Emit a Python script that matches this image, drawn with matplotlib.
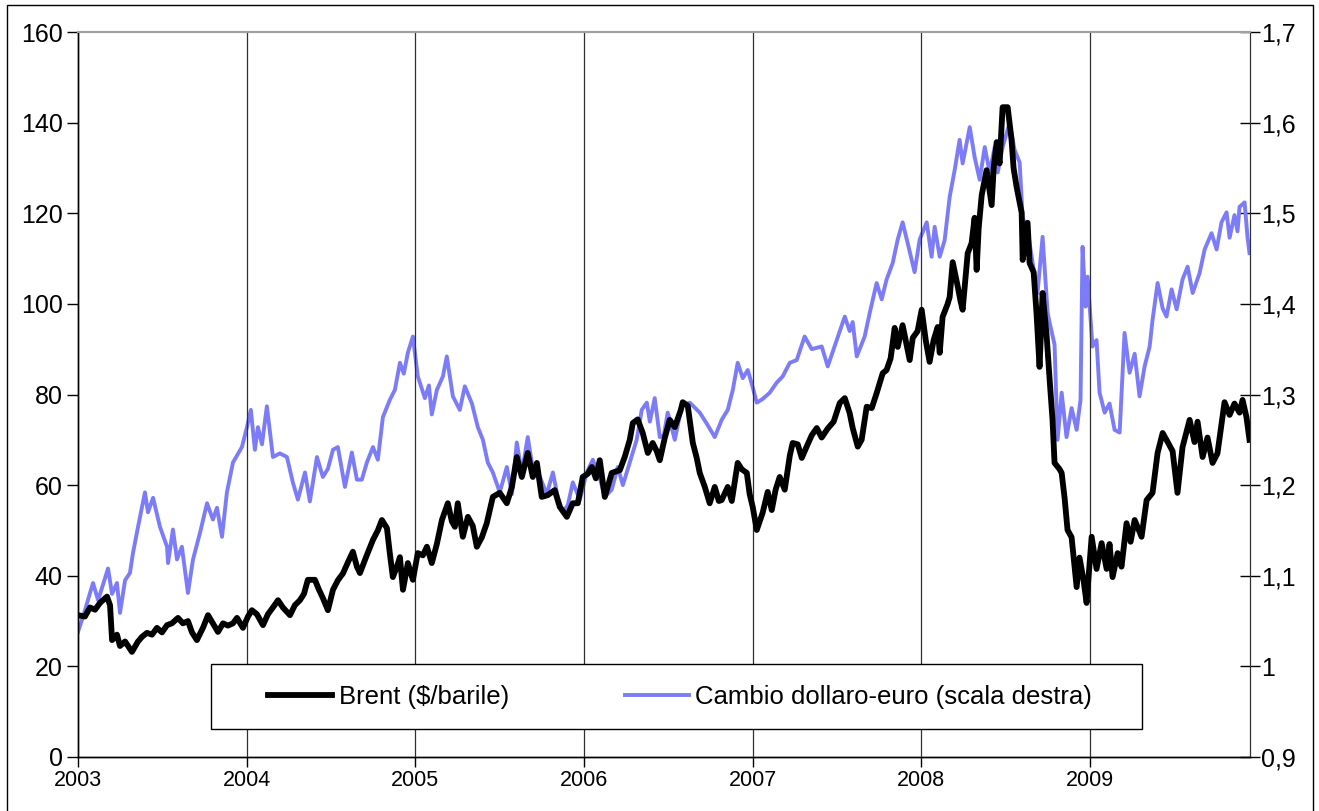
import matplotlib
matplotlib.use("Agg")
import matplotlib.pyplot as plt
from matplotlib.patches import Rectangle
from matplotlib.lines import Line2D
from matplotlib.ticker import FuncFormatter

plt.rcParams['font.family'] = ['Liberation Sans', 'DejaVu Sans']

# ---------------- data (decimal years) ----------------
brent_t = [2003.000, 2003.041, 2003.071, 2003.101, 2003.130, 2003.172, 2003.190, 2003.202, 2003.231, 2003.249,
           2003.279, 2003.320, 2003.356, 2003.379, 2003.409, 2003.439, 2003.468, 2003.498, 2003.528, 2003.557,
           2003.593, 2003.622, 2003.652, 2003.676, 2003.705, 2003.741, 2003.771, 2003.800, 2003.830, 2003.860,
           2003.889, 2003.919, 2003.943, 2003.978, 2004.008, 2004.031, 2004.061, 2004.097, 2004.126, 2004.156,
           2004.186, 2004.215, 2004.257, 2004.286, 2004.316, 2004.340, 2004.363, 2004.405, 2004.428, 2004.452,
           2004.482, 2004.512, 2004.541, 2004.571, 2004.601, 2004.630, 2004.654, 2004.672, 2004.707, 2004.749,
           2004.778, 2004.802, 2004.832, 2004.849, 2004.867, 2004.891, 2004.909, 2004.927, 2004.956, 2004.986,
           2005.015, 2005.045, 2005.069, 2005.098, 2005.128, 2005.158, 2005.193, 2005.217, 2005.235, 2005.252,
           2005.282, 2005.312, 2005.341, 2005.365, 2005.395, 2005.424, 2005.460, 2005.501, 2005.543, 2005.573,
           2005.602, 2005.632, 2005.667, 2005.697, 2005.721, 2005.750, 2005.786, 2005.827, 2005.857, 2005.899,
           2005.934, 2005.964, 2005.993, 2006.023, 2006.047, 2006.071, 2006.094, 2006.124, 2006.165, 2006.213,
           2006.242, 2006.272, 2006.290, 2006.319, 2006.349, 2006.379, 2006.408, 2006.432, 2006.450, 2006.480,
           2006.509, 2006.539, 2006.574, 2006.586, 2006.616, 2006.646, 2006.669, 2006.687, 2006.717, 2006.746,
           2006.776, 2006.800, 2006.817, 2006.853, 2006.877, 2006.912, 2006.936, 2006.966, 2006.983, 2007.001,
           2007.025, 2007.060, 2007.090, 2007.114, 2007.137, 2007.161, 2007.191, 2007.221, 2007.238, 2007.268,
           2007.292, 2007.321, 2007.351, 2007.381, 2007.410, 2007.446, 2007.481, 2007.517, 2007.547, 2007.576,
           2007.594, 2007.624, 2007.647, 2007.677, 2007.707, 2007.736, 2007.772, 2007.795, 2007.819, 2007.843,
           2007.861, 2007.890, 2007.908, 2007.932, 2007.950, 2007.979, 2008.003, 2008.027, 2008.050, 2008.074,
           2008.098, 2008.110, 2008.127, 2008.157, 2008.169, 2008.187, 2008.216, 2008.234, 2008.246, 2008.276,
           2008.299, 2008.317, 2008.329, 2008.341, 2008.359, 2008.388, 2008.418, 2008.430, 2008.448, 2008.465,
           2008.483, 2008.513, 2008.536, 2008.548, 2008.566, 2008.596, 2008.602, 2008.631, 2008.643, 2008.667,
           2008.684, 2008.702, 2008.720, 2008.744, 2008.762, 2008.779, 2008.791, 2008.821, 2008.833, 2008.851,
           2008.868, 2008.892, 2008.922, 2008.939, 2008.963, 2008.981, 2009.011, 2009.040, 2009.070, 2009.100,
           2009.117, 2009.135, 2009.165, 2009.188, 2009.218, 2009.242, 2009.266, 2009.307, 2009.337, 2009.372,
           2009.402, 2009.432, 2009.462, 2009.491, 2009.520, 2009.550, 2009.592, 2009.621, 2009.639, 2009.669,
           2009.698, 2009.728, 2009.757, 2009.799, 2009.829, 2009.858, 2009.888, 2009.906, 2009.929, 2009.947]
brent_v = [31.3, 31.0, 33.0, 32.5, 34.0, 35.4, 33.5, 25.8, 27.0, 24.5,
           25.5, 23.2, 25.5, 26.5, 27.4, 27.0, 28.5, 27.5, 29.1, 29.5,
           30.7, 29.5, 30.0, 27.5, 25.8, 28.5, 31.3, 29.5, 27.6, 29.5,
           29.0, 29.5, 30.7, 28.5, 31.0, 32.4, 31.5, 29.1, 31.5, 33.0,
           34.6, 33.0, 31.3, 33.5, 34.6, 36.0, 39.1, 39.1, 37.0, 35.1,
           32.4, 36.9, 39.0, 40.5, 43.0, 45.3, 42.0, 40.6, 44.0, 47.9,
           50.0, 52.3, 50.5, 45.0, 39.7, 42.0, 44.1, 36.9, 42.8, 39.1,
           45.0, 44.5, 46.4, 42.8, 47.0, 52.3, 56.0, 52.0, 50.8, 56.0,
           48.6, 53.0, 51.0, 46.4, 48.5, 51.6, 57.4, 58.3, 56.0, 59.6,
           66.2, 61.8, 67.1, 61.8, 64.9, 57.4, 57.8, 58.9, 55.2, 53.0,
           56.0, 56.0, 61.8, 62.5, 64.0, 61.5, 65.5, 57.4, 62.7, 63.3,
           66.2, 70.0, 73.7, 74.5, 71.5, 67.1, 69.3, 67.5, 65.5, 70.5,
           74.4, 72.8, 76.5, 78.3, 77.5, 69.3, 66.0, 62.7, 59.6, 56.0,
           59.6, 56.5, 56.7, 59.6, 56.5, 64.9, 63.5, 62.7, 58.0, 55.2,
           50.1, 53.9, 58.5, 54.5, 59.0, 61.8, 59.0, 66.5, 69.3, 69.0,
           66.0, 68.5, 71.0, 72.6, 70.5, 72.5, 74.0, 78.1, 79.2, 75.9,
           72.6, 68.5, 70.0, 77.3, 77.0, 80.3, 84.7, 85.4, 88.0, 94.7,
           90.5, 95.3, 92.0, 87.6, 92.5, 94.0, 98.7, 92.0, 87.2, 92.0,
           94.9, 89.2, 97.1, 100.0, 101.5, 109.2, 104.0, 100.5, 98.7, 111.2,
           113.4, 119.0, 107.5, 116.7, 124.0, 129.5, 121.8, 130.0, 135.7, 131.0,
           143.4, 143.4, 136.2, 130.0, 125.8, 120.1, 109.7, 117.9, 109.0, 107.0,
           98.0, 86.1, 102.4, 93.0, 83.2, 74.4, 64.9, 63.5, 62.7, 57.0,
           50.1, 48.5, 37.5, 44.0, 39.0, 34.0, 48.6, 41.5, 47.2, 41.5,
           47.0, 39.7, 45.0, 42.0, 51.6, 47.5, 52.3, 48.6, 56.7, 58.3,
           67.1, 71.5, 69.5, 67.5, 58.3, 68.4, 74.4, 69.5, 74.0, 66.2,
           70.5, 64.9, 67.0, 78.3, 75.5, 78.0, 76.0, 78.8, 75.0, 70.0]

fx_t = [2003.000, 2003.030, 2003.071, 2003.089, 2003.119, 2003.148, 2003.178, 2003.202, 2003.231, 2003.249,
        2003.279, 2003.308, 2003.326, 2003.356, 2003.397, 2003.415, 2003.445, 2003.486, 2003.528, 2003.534,
        2003.563, 2003.587, 2003.616, 2003.652, 2003.682, 2003.723, 2003.765, 2003.800, 2003.824, 2003.854,
        2003.883, 2003.919, 2003.972, 2004.002, 2004.025, 2004.049, 2004.067, 2004.091, 2004.120, 2004.156,
        2004.197, 2004.239, 2004.274, 2004.304, 2004.346, 2004.375, 2004.417, 2004.452, 2004.482, 2004.512,
        2004.541, 2004.583, 2004.624, 2004.654, 2004.683, 2004.713, 2004.749, 2004.778, 2004.808, 2004.849,
        2004.879, 2004.909, 2004.932, 2004.956, 2004.986, 2005.015, 2005.057, 2005.081, 2005.098, 2005.128,
        2005.164, 2005.187, 2005.223, 2005.264, 2005.294, 2005.336, 2005.371, 2005.401, 2005.430, 2005.460,
        2005.501, 2005.543, 2005.573, 2005.602, 2005.632, 2005.667, 2005.697, 2005.739, 2005.780, 2005.816,
        2005.845, 2005.875, 2005.905, 2005.934, 2005.976, 2006.017, 2006.053, 2006.094, 2006.124, 2006.165,
        2006.201, 2006.231, 2006.272, 2006.313, 2006.343, 2006.373, 2006.391, 2006.420, 2006.450, 2006.474,
        2006.497, 2006.539, 2006.580, 2006.628, 2006.687, 2006.728, 2006.776, 2006.817, 2006.853, 2006.883,
        2006.912, 2006.942, 2006.972, 2007.001, 2007.025, 2007.060, 2007.102, 2007.143, 2007.179, 2007.221,
        2007.262, 2007.309, 2007.351, 2007.410, 2007.446, 2007.499, 2007.547, 2007.576, 2007.594, 2007.618,
        2007.665, 2007.695, 2007.736, 2007.766, 2007.795, 2007.831, 2007.861, 2007.890, 2007.920, 2007.961,
        2007.991, 2008.033, 2008.062, 2008.080, 2008.110, 2008.139, 2008.169, 2008.199, 2008.228, 2008.246,
        2008.288, 2008.317, 2008.347, 2008.377, 2008.406, 2008.436, 2008.454, 2008.483, 2008.525, 2008.554,
        2008.584, 2008.602, 2008.631, 2008.661, 2008.690, 2008.720, 2008.750, 2008.762, 2008.791, 2008.809,
        2008.833, 2008.862, 2008.892, 2008.922, 2008.945, 2008.957, 2008.975, 2008.987, 2009.016, 2009.040,
        2009.058, 2009.088, 2009.117, 2009.147, 2009.177, 2009.206, 2009.236, 2009.266, 2009.295, 2009.325,
        2009.355, 2009.372, 2009.402, 2009.432, 2009.455, 2009.485, 2009.515, 2009.550, 2009.580, 2009.610,
        2009.651, 2009.681, 2009.722, 2009.752, 2009.781, 2009.811, 2009.829, 2009.858, 2009.876, 2009.888,
        2009.918, 2009.935, 2009.947]
fx_v = [1.038, 1.055, 1.081, 1.092, 1.073, 1.090, 1.108, 1.080, 1.092, 1.059,
        1.095, 1.103, 1.125, 1.154, 1.192, 1.170, 1.186, 1.154, 1.132, 1.114,
        1.151, 1.118, 1.132, 1.081, 1.118, 1.147, 1.180, 1.162, 1.175, 1.143,
        1.192, 1.225, 1.242, 1.264, 1.283, 1.239, 1.264, 1.245, 1.287, 1.231,
        1.235, 1.231, 1.203, 1.184, 1.214, 1.182, 1.231, 1.209, 1.218, 1.239,
        1.242, 1.198, 1.236, 1.206, 1.206, 1.225, 1.242, 1.228, 1.275, 1.294,
        1.305, 1.335, 1.323, 1.346, 1.364, 1.320, 1.296, 1.310, 1.278, 1.305,
        1.320, 1.342, 1.298, 1.283, 1.309, 1.290, 1.264, 1.250, 1.225, 1.214,
        1.192, 1.220, 1.190, 1.247, 1.213, 1.253, 1.218, 1.209, 1.190, 1.214,
        1.187, 1.170, 1.178, 1.203, 1.184, 1.214, 1.228, 1.208, 1.187, 1.195,
        1.220, 1.200, 1.225, 1.250, 1.283, 1.291, 1.270, 1.296, 1.253, 1.255,
        1.280, 1.250, 1.287, 1.291, 1.280, 1.268, 1.253, 1.272, 1.283, 1.305,
        1.335, 1.318, 1.327, 1.308, 1.291, 1.295, 1.302, 1.313, 1.320, 1.335,
        1.338, 1.364, 1.350, 1.353, 1.331, 1.360, 1.386, 1.370, 1.380, 1.342,
        1.364, 1.390, 1.423, 1.405, 1.427, 1.445, 1.471, 1.490, 1.467, 1.435,
        1.471, 1.490, 1.452, 1.485, 1.452, 1.470, 1.518, 1.548, 1.581, 1.555,
        1.595, 1.562, 1.537, 1.573, 1.545, 1.573, 1.545, 1.573, 1.600, 1.570,
        1.556, 1.495, 1.482, 1.445, 1.412, 1.474, 1.390, 1.379, 1.355, 1.250,
        1.302, 1.253, 1.285, 1.261, 1.294, 1.463, 1.397, 1.430, 1.353, 1.360,
        1.302, 1.280, 1.290, 1.261, 1.258, 1.368, 1.324, 1.345, 1.298, 1.331,
        1.353, 1.382, 1.423, 1.395, 1.386, 1.416, 1.394, 1.427, 1.441, 1.412,
        1.434, 1.460, 1.478, 1.460, 1.490, 1.501, 1.473, 1.498, 1.480, 1.507,
        1.512, 1.474, 1.456]

years = [2003, 2004, 2005, 2006, 2007, 2008, 2009]
left_ticks = [0, 20, 40, 60, 80, 100, 120, 140, 160]
right_ticks = [0.9, 1.0, 1.1, 1.2, 1.3, 1.4, 1.5, 1.6, 1.7]
brent_label = "Brent ($/barile)"
fx_label = "Cambio dollaro-euro (scala destra)"

# ---------------- figure ----------------
W, H = 1319, 811
fig = plt.figure(figsize=(W / 100, H / 100), dpi=100)
fig.patch.set_facecolor('white')

# outer chart border
fig.patches.append(Rectangle((7 / W, -0.02), (1313 - 7) / W, 1.02 - 5 / H,
                             transform=fig.transFigure, fill=False, edgecolor='black',
                             linewidth=1.0, zorder=0))

ax = fig.add_axes([78 / W, 1 - 757 / H, (1250 - 78) / W, (757 - 32) / H])
ax2 = ax.twinx()

BLUE = '#7c7cf8'
ax.set_xlim(2003, 2009.95)
ax.set_ylim(0, 160)
ax2.set_ylim(0.9, 1.7)

for y in years[1:]:
    ax.axvline(y, color='#303030', linewidth=0.9, zorder=1)

ax.plot(brent_t, brent_v, color='black', linewidth=4.2, solid_joinstyle='round', zorder=3)
ax2.plot(fx_t, fx_v, color=BLUE, linewidth=2.8, zorder=2)
# blue drawn beneath black
ax.set_zorder(ax2.get_zorder() + 1)
ax.patch.set_visible(False)

fs_tick = 18
fs_x = 15.5
fs_leg = 18.5
ax.set_yticks(left_ticks)
ax.set_yticklabels([str(v) for v in left_ticks], fontsize=fs_tick)
ax.set_xticks(years)
ax.set_xticklabels([str(y) for y in years], fontsize=fs_x)
ax2.set_yticks(right_ticks)
ax2.yaxis.set_major_formatter(FuncFormatter(
    lambda v, p: ('%g' % round(v, 1)).replace('.', ',')))
for lab in ax2.get_yticklabels():
    lab.set_fontsize(fs_tick)

ax.tick_params(axis='y', direction='out', length=8, width=1, pad=3, colors='black')
ax.tick_params(axis='x', direction='out', length=7, width=1, pad=2)
ax2.tick_params(axis='y', direction='inout', length=14, width=1, pad=1)

for a in (ax, ax2):
    a.spines['top'].set_color('#a0a0a0')
    a.spines['top'].set_linewidth(1.5)
    a.spines['left'].set_color('black')
    a.spines['bottom'].set_color('black')
    a.spines['right'].set_color('#303030')
    a.spines['left'].set_linewidth(1.0)
    a.spines['bottom'].set_linewidth(1.0)

# legend box
box = Rectangle(((211 - 78) / 1172, (757 - 729) / 725), (1142 - 211) / 1172, (729 - 664) / 725,
                transform=ax.transAxes, facecolor='white', edgecolor='black', linewidth=1.0,
                zorder=10)
ax.add_patch(box)
handles = [Line2D([], [], color='black', linewidth=4.2),
           Line2D([], [], color=BLUE, linewidth=2.8)]
leg = ax.legend(handles, [brent_label, fx_label], loc='center left',
                bbox_to_anchor=((268 - 78) / 1172, (757 - 697) / 725),
                ncol=2, frameon=False, fontsize=fs_leg, handlelength=2.5, handletextpad=0.25,
                columnspacing=4.5, borderpad=0, borderaxespad=0)
leg.set_zorder(11)

fig.savefig('out.png', dpi=100, facecolor='white')
